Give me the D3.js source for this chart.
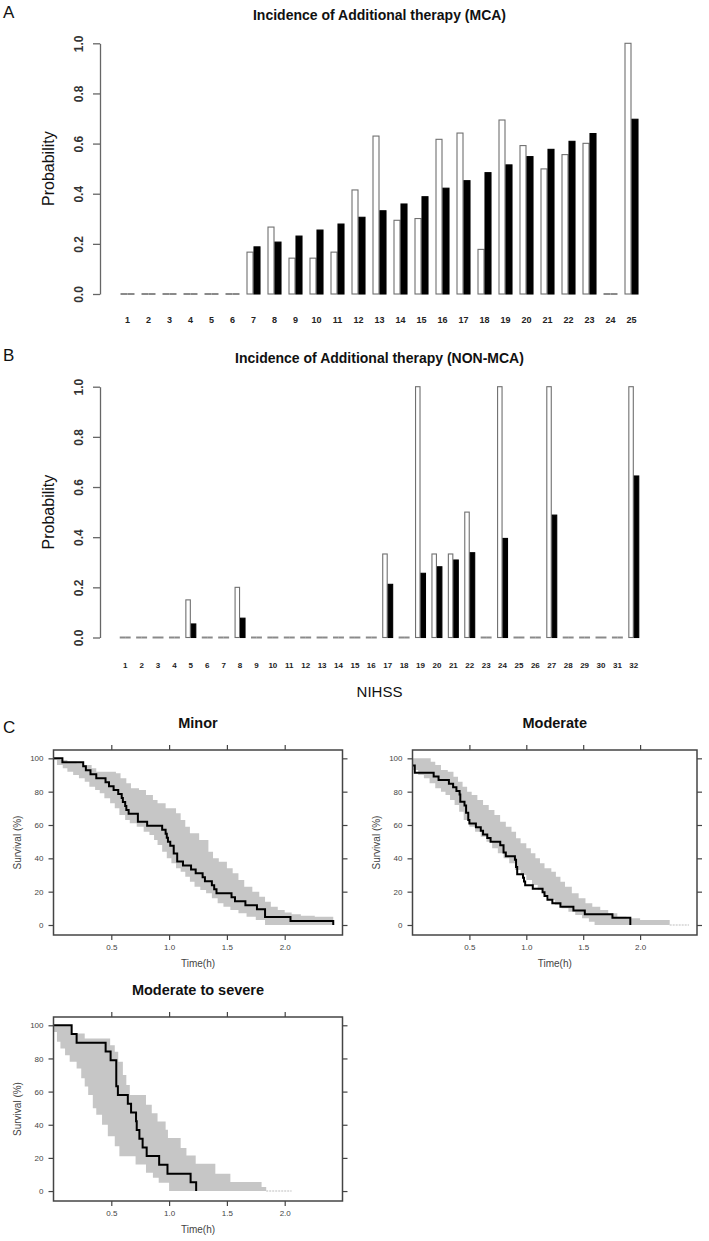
<!DOCTYPE html>
<html><head><meta charset="utf-8">
<script src="https://cdn.jsdelivr.net/npm/d3@7"></script>
<style>
html,body{margin:0;padding:0;background:#fff;}
svg{display:block;font-family:Arial,"Liberation Sans",Helvetica,sans-serif;}
</style></head><body>
<svg id="chart" width="709" height="1241"></svg>
<script>
// ---------- DATA ----------
const mcaNihss = ["1","2","3","4","5","6","7","8","9","10","11","12","13","14","15","16","17","18","19","20","21","22","23","24","25"];
const mcaObserved  = [0,0,0,0,0,0,0.167,0.267,0.143,0.143,0.167,0.415,0.630,0.294,0.301,0.617,0.642,0.178,0.694,0.592,0.499,0.556,0.601,0,1.0];
const mcaPredicted = [0,0,0,0,0,0,0.188,0.207,0.231,0.255,0.279,0.306,0.332,0.359,0.388,0.422,0.452,0.484,0.515,0.548,0.577,0.609,0.640,0,0.697];

const nonNihss = ["1","2","3","4","5","6","7","8","9","10","11","12","13","14","15","16","17","18","19","20","21","22","23","24","25","26","27","28","29","30","31","32"];
const nonObserved  = [0,0,0,0,0.150,0,0,0.200,0,0,0,0,0,0,0,0,0.333,0,1.0,0.333,0.333,0.500,0,1.0,0,0,1.0,0,0,0,0,1.0];
const nonPredicted = [0,0,0,0,0.054,0,0,0.077,0,0,0,0,0,0,0,0,0.212,0,0.256,0.282,0.309,0.338,0,0.395,0,0,0.488,0,0,0,0,0.644];

const probTicks = [0,0.2,0.4,0.6,0.8,1.0];
const survTicks = [0,20,40,60,80,100];
const timeTicks = [0.5,1.0,1.5,2.0];

// Kaplan-Meier curves: [time (h), survival (%)]
const minorKM = [[0,100],[0.077,97.6],[0.257,95.2],[0.28,92.9],[0.32,90.5],[0.37,88.1],[0.45,85.7],[0.48,83.3],[0.52,81.0],[0.56,78.6],[0.59,76.2],[0.6,73.8],[0.62,71.4],[0.63,69.0],[0.65,66.7],[0.73,61.9],[0.81,59.5],[0.94,57.1],[0.97,54.8],[0.98,52.4],[0.99,50.0],[1.01,47.6],[1.04,42.9],[1.07,38.1],[1.12,35.7],[1.19,33.3],[1.23,31.0],[1.29,28.6],[1.31,26.2],[1.37,23.8],[1.39,21.4],[1.41,19.0],[1.54,16.7],[1.57,14.3],[1.66,11.9],[1.76,9.5],[1.83,4.8],[2.05,2.4],[2.42,0]];
const minorUpper = [[0,100],[0.06,99],[0.12,98],[0.2,97],[0.26,96],[0.33,94],[0.37,92],[0.54,91],[0.58,88],[0.63,85],[0.67,82],[0.74,81],[0.8,78],[0.86,75],[0.9,73],[0.97,70],[1.06,67],[1.1,63],[1.14,59],[1.18,55],[1.26,51],[1.34,44],[1.38,40],[1.43,38],[1.5,34],[1.55,31],[1.6,27],[1.65,23],[1.72,20],[1.78,17],[1.83,14],[1.88,11],[1.94,9],[2.0,7.5],[2.06,6.5],[2.14,5.5],[2.26,5],[2.42,4.5]];
const minorLower = [[0,99],[0.03,96],[0.08,94],[0.12,92],[0.17,90],[0.22,88],[0.27,86],[0.31,83],[0.36,81],[0.4,79],[0.44,76],[0.49,73],[0.53,70],[0.57,66],[0.62,63],[0.66,61],[0.72,59],[0.78,56],[0.83,54],[0.87,51],[0.9,48],[0.94,44],[0.98,40],[1.02,37],[1.06,34],[1.1,32],[1.14,29],[1.18,26],[1.22,23],[1.27,21],[1.32,19],[1.37,16],[1.42,13],[1.47,11],[1.53,9],[1.6,7],[1.67,5],[1.75,3],[1.83,0],[2.42,0]];

const moderateKM = [[0,95.7],[0.02,91.3],[0.186,89.1],[0.229,87.0],[0.32,84.8],[0.357,82.6],[0.386,80.4],[0.414,78.3],[0.42,73.9],[0.457,71.7],[0.471,67.4],[0.49,63.0],[0.5,60.9],[0.557,58.7],[0.6,56.5],[0.62,54.3],[0.657,52.2],[0.686,50.0],[0.771,47.8],[0.8,43.5],[0.82,41.3],[0.9,39.1],[0.91,34.8],[0.92,30.4],[0.971,28.3],[0.98,26.1],[0.99,23.9],[1.057,21.7],[1.143,19.6],[1.16,17.4],[1.186,15.2],[1.229,13.0],[1.3,10.9],[1.414,8.7],[1.514,6.5],[1.757,4.3],[1.914,0]];
const moderateUpper = [[0,100],[0.16,98],[0.2,96],[0.25,93],[0.31,92],[0.36,89],[0.4,86],[0.44,83],[0.48,80],[0.52,78],[0.57,75],[0.62,72],[0.67,69],[0.72,66],[0.77,62],[0.82,59],[0.87,56],[0.91,52],[0.95,49],[1.0,46],[1.04,43],[1.08,40],[1.12,37],[1.16,34],[1.22,32],[1.26,29],[1.3,26],[1.34,23],[1.4,19],[1.46,16],[1.52,13],[1.58,11],[1.65,9],[1.72,7],[1.8,5],[1.88,4],[2.0,3],[2.26,3]];
const moderateLower = [[0,93],[0.05,90],[0.1,88],[0.15,85],[0.2,82],[0.25,80],[0.29,78],[0.33,75],[0.37,72],[0.41,68],[0.45,63],[0.5,59],[0.55,56],[0.6,53],[0.65,50],[0.7,46],[0.75,43],[0.8,40],[0.85,37],[0.9,33],[0.95,30],[1.0,27],[1.05,24],[1.1,21],[1.15,18],[1.2,15],[1.25,12],[1.31,10],[1.37,8],[1.43,6],[1.49,4],[1.55,2],[1.6,0],[2.26,0]];
const moderateTail = [2.26,2.43];

const severeKM = [[0,100],[0.157,94.7],[0.2,89.5],[0.451,84.2],[0.494,78.9],[0.543,63.2],[0.557,57.9],[0.643,52.6],[0.671,47.4],[0.714,42.1],[0.72,36.8],[0.743,31.6],[0.771,26.3],[0.806,21.1],[0.914,15.8],[0.986,10.5],[1.186,5.3],[1.234,0]];
const severeUpper = [[0,100],[0.16,95],[0.27,92],[0.49,88],[0.53,84],[0.56,78],[0.6,70],[0.63,64],[0.66,58],[0.8,52],[0.85,47],[0.9,42],[0.97,37],[0.99,32],[1.1,26],[1.15,21.5],[1.23,16.5],[1.4,10.5],[1.53,5.4],[1.8,2.5],[1.84,2.5]];
const severeLower = [[0,96],[0.03,90],[0.06,86],[0.1,82],[0.14,78],[0.2,74],[0.24,68],[0.27,63],[0.3,58],[0.34,50],[0.37,46],[0.42,40],[0.47,33],[0.53,27],[0.57,21],[0.71,16],[0.8,11],[0.86,8],[0.91,5],[1.0,0],[1.84,0]];
const severeTail = [1.84,2.06];

// ---------- DRAW ----------
const svg = d3.select("#chart");
svg.append("rect").attr("width",709).attr("height",1241).attr("fill","#fff");

const X0 = 117, X1 = 642;

function barPanel(cfg) {
  const g = svg.append("g");
  const y = d3.scaleLinear().domain([0,1]).range([cfg.base, cfg.top]);
  const x = d3.scaleBand().domain(cfg.cats).range([X0, X1]).paddingInner(1/3).paddingOuter(1/6);
  const sub = d3.scaleBand().domain(["obs","pred"]).range([0, x.bandwidth()]);
  const rows = cfg.cats.map((c,i)=>({c, obs: cfg.obs[i], pred: cfg.pred[i]}));

  const grp = g.selectAll("g.grp").data(rows).join("g").attr("class","grp")
     .attr("transform", d=>`translate(${x(d.c)},0)`);
  grp.each(function(d){
    const gg = d3.select(this);
    [["obs", d.obs], ["pred", d.pred]].forEach(([k,v]) => {
      if (v > 0) {
        gg.append("rect").attr("x", sub(k)+0.5).attr("y", y(v)).attr("width", sub.bandwidth()-1)
          .attr("height", y(0)-y(v))
          .attr("fill", k==="obs" ? "#fff" : "#000")
          .attr("stroke", k==="obs" ? "#707070" : "#000").attr("stroke-width", 1.1);
      } else {
        gg.append("line").attr("x1", sub(k)).attr("x2", sub(k)+sub.bandwidth())
          .attr("y1", y(0)).attr("y2", y(0)).attr("stroke","#8a8a8a").attr("stroke-width",2);
      }
    });
  });

  // y axis
  const ax = g.append("g").attr("transform","translate(100,0)")
    .call(d3.axisLeft(y).tickValues(probTicks).tickSize(7).tickSizeOuter(0).tickFormat(d3.format(".1f")));
  ax.select(".domain").attr("stroke","#666").attr("stroke-width",1.3);
  ax.selectAll(".tick line").attr("stroke","#666").attr("stroke-width",1.3);
  ax.selectAll(".tick text").attr("x",0).attr("y",-17).attr("dy",0).attr("transform","rotate(-90)")
    .attr("text-anchor","middle").attr("font-size",12).attr("font-weight","bold").attr("fill","#333");

  // category labels
  g.selectAll("text.cat").data(cfg.cats).join("text").attr("class","cat")
    .attr("x", d=>x(d)+x.bandwidth()/2).attr("y", cfg.labelY)
    .attr("text-anchor","middle").attr("font-size", cfg.catSize).attr("font-weight","bold").attr("fill","#222")
    .text(d=>d);

  g.append("text").attr("transform",`translate(54,${(cfg.base+cfg.top)/2}) rotate(-90)`)
    .attr("text-anchor","middle").attr("font-size",16).attr("fill","#111").text("Probability");
  g.append("text").attr("x",(X0+X1)/2).attr("y",cfg.titleY).attr("text-anchor","middle")
    .attr("font-size",14).attr("font-weight","bold").attr("fill","#111").text(cfg.title);
  g.append("text").attr("x",3).attr("y",cfg.letterY).attr("font-size",17).attr("fill","#111").text(cfg.letter);
}

barPanel({cats: mcaNihss, obs: mcaObserved, pred: mcaPredicted, base: 294, top: 43.3,
  labelY: 323, catSize: 9, title: "Incidence of Additional therapy (MCA)", titleY: 20, letter: "A", letterY: 18});
barPanel({cats: nonNihss, obs: nonObserved, pred: nonPredicted, base: 637.5, top: 386.7,
  labelY: 668, catSize: 8, title: "Incidence of Additional therapy (NON-MCA)", titleY: 363, letter: "B", letterY: 361});

svg.append("text").attr("x",(X0+X1)/2).attr("y",697).attr("text-anchor","middle")
  .attr("font-size",15).attr("fill","#111").text("NIHSS");
svg.append("text").attr("x",3).attr("y",733).attr("font-size",17).attr("fill","#111").text("C");

function survPanel(cfg) {
  const g = svg.append("g");
  const x = d3.scaleLinear().domain([0,2.5]).range([cfg.left, cfg.right]);
  const y = d3.scaleLinear().domain([-6,105]).range([cfg.bottom, cfg.top]);

  const up = d3.line().x(d=>x(d[0])).y(d=>y(d[1])).curve(d3.curveStepAfter);
  const down = d3.line().x(d=>x(d[0])).y(d=>y(d[1])).curve(d3.curveStepBefore);
  const path = up(cfg.upper) + down(cfg.lower.slice().reverse()).replace(/^M/,"L") + "Z";
  g.append("path").attr("d", path).attr("fill","#c6c6c6").attr("stroke","none");
  if (cfg.tail) {
    g.append("line").attr("x1",x(cfg.tail[0])).attr("x2",x(cfg.tail[1])).attr("y1",y(0)).attr("y2",y(0))
      .attr("stroke","#d4d4d4").attr("stroke-width",1.5).attr("stroke-dasharray","2,1");
  }
  g.append("path").attr("d", up(cfg.km)).attr("fill","none").attr("stroke","#000").attr("stroke-width",2);

  const axStyle = sel => {
    sel.select(".domain").remove();
    sel.selectAll(".tick line").attr("stroke","#444").attr("stroke-width",1.2);
    sel.selectAll(".tick text").attr("font-size",8).attr("fill","#444");
  };
  g.append("g").attr("transform",`translate(${cfg.left},0)`)
    .call(d3.axisLeft(y).tickValues(survTicks).tickSize(5).tickPadding(5)).call(axStyle);
  g.append("g").attr("transform",`translate(${cfg.right},0)`)
    .call(d3.axisRight(y).tickValues(survTicks).tickSize(5).tickFormat("")).call(axStyle);
  g.append("g").attr("transform",`translate(0,${cfg.bottom})`)
    .call(d3.axisBottom(x).tickValues(timeTicks).tickSize(5).tickPadding(4).tickFormat(d3.format(".1f"))).call(axStyle);
  g.append("g").attr("transform",`translate(0,${cfg.top})`)
    .call(d3.axisTop(x).tickValues(timeTicks).tickSize(5).tickFormat("")).call(axStyle);

  g.append("rect").attr("x",cfg.left).attr("y",cfg.top).attr("width",cfg.right-cfg.left).attr("height",cfg.bottom-cfg.top)
    .attr("fill","none").attr("stroke","#444").attr("stroke-width",1.5);

  const cx = (cfg.left+cfg.right)/2;
  g.append("text").attr("x",cx).attr("y",cfg.top-22).attr("text-anchor","middle")
    .attr("font-size",14.5).attr("font-weight","bold").attr("fill","#111").text(cfg.title);
  g.append("text").attr("x",cx).attr("y",cfg.bottom+32).attr("text-anchor","middle")
    .attr("font-size",10).attr("fill","#444").text("Time(h)");
  g.append("text").attr("transform",`translate(${cfg.left-33},${(cfg.top+cfg.bottom)/2}) rotate(-90)`)
    .attr("text-anchor","middle").attr("font-size",10).attr("fill","#444").text("Survival (%)");
}

survPanel({title:"Minor", left:53.5, right:342.5, top:750, bottom:935, km:minorKM, upper:minorUpper, lower:minorLower});
survPanel({title:"Moderate", left:412.5, right:697, top:750, bottom:935, km:moderateKM, upper:moderateUpper, lower:moderateLower, tail:moderateTail});
survPanel({title:"Moderate to severe", left:53.5, right:342.5, top:1017, bottom:1201, km:severeKM, upper:severeUpper, lower:severeLower, tail:severeTail});
</script>
</body></html>
